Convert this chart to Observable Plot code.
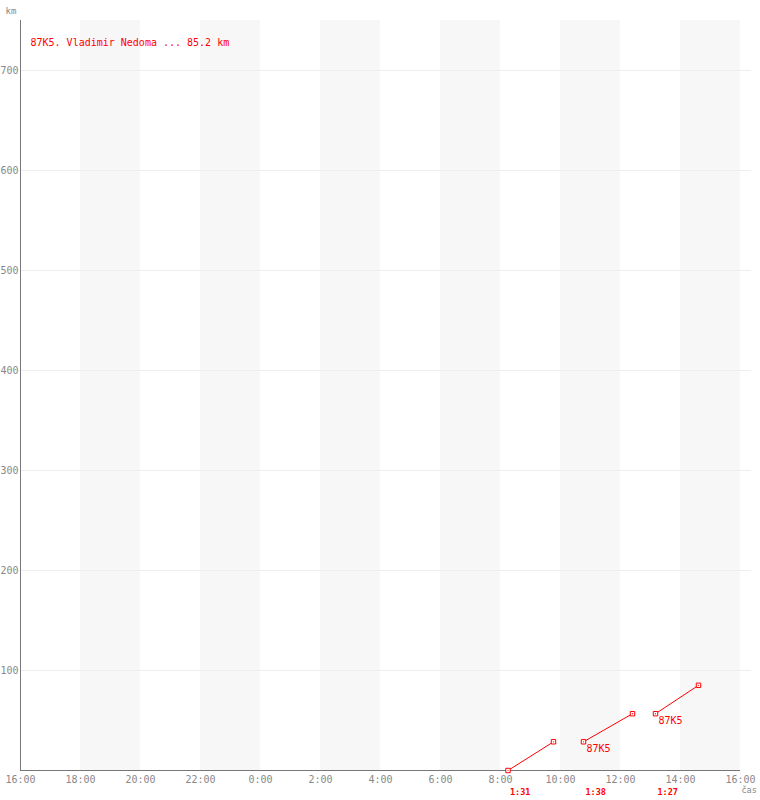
<!DOCTYPE html>
<html>
<head>
<meta charset="utf-8">
<script src="https://cdn.jsdelivr.net/npm/d3@7"></script>
<script src="https://cdn.jsdelivr.net/npm/@observablehq/plot@0.6"></script>
<style>
  html, body { margin: 0; padding: 0; background: white; }
</style>
</head>
<body>
<div id="chart"></div>
<script>
// ---- data ----
const title = "87K5. Vladimir Nedoma ... 85.2 km";
const segStart = ["08:15", "10:46", "13:10"];
const segEnd = ["09:46", "12:24", "14:36"];
const kmStart = [0, 28.7, 56.8];
const kmEnd = [28.7, 56.8, 85.2];
const durations = ["1:31", "1:38", "1:27"];
const segLabels = [null, "87K5", "87K5"];
const bandStarts = ["18:00", "22:00", "02:00", "06:00", "10:00", "14:00"];
const xTickTimes = ["16:00", "18:00", "20:00", "22:00", "00:00", "02:00", "04:00", "06:00", "08:00", "10:00", "12:00", "14:00", "16:00+"];
const xTickLabels = ["16:00", "18:00", "20:00", "22:00", "0:00", "2:00", "4:00", "6:00", "8:00", "10:00", "12:00", "14:00", "16:00"];
const yTicks = [100, 200, 300, 400, 500, 600, 700];

// time helper: window runs from 16:00 on day 1 to 16:00 on day 2
function toDate(s) {
  const next = s.endsWith("+");
  const [h, m] = s.replace("+", "").split(":").map(Number);
  const day = (next || h < 16) ? 2 : 1;
  return new Date(Date.UTC(2000, 0, day, h, m));
}
const t0 = toDate("16:00");
const t1 = toDate("16:00+");
const gridEnd = new Date(+t1 + 22 * 60 * 1000);

const segments = segStart.map((s, i) => ({
  x1: toDate(s), x2: toDate(segEnd[i]), y1: kmStart[i], y2: kmEnd[i],
  dur: durations[i], label: segLabels[i]
}));
const points = segments.flatMap(d => [{x: d.x1, y: d.y1}, {x: d.x2, y: d.y2}]);
const bands = bandStarts.map(s => ({x1: toDate(s), x2: new Date(+toDate(s) + 2 * 3600 * 1000)}));
const xTicks = xTickTimes.map(toDate);

const red = "#ff0000";
const grey = "#888";

const chart = Plot.plot({
  width: 760,
  height: 800,
  marginLeft: 20,
  marginRight: 20,
  marginTop: 20,
  marginBottom: 30,
  style: {fontFamily: "DejaVu Sans Mono, monospace", fontSize: "10px", background: "white", color: grey},
  x: {type: "utc", domain: [t0, t1]},
  y: {domain: [0, 750]},
  marks: [
    Plot.rect(bands, {x1: "x1", x2: "x2", y1: () => 0, y2: () => 750, fill: "#f7f7f7"}),
    Plot.ruleY(yTicks, {x1: () => t0, x2: () => gridEnd, stroke: "#eeeeee", clip: false}),
    Plot.axisY({ticks: yTicks, tickSize: 0, tickPadding: 2, label: null, fill: grey}),
    Plot.axisX({ticks: xTicks, tickSize: 0, tickPadding: 5, label: null, fill: grey,
      tickFormat: (d, i) => xTickLabels[i]}),
    Plot.ruleX([t0], {y1: 0, y2: 750, stroke: "#777"}),
    Plot.ruleY([0], {x1: () => t0, x2: () => t1, stroke: "#777"}),
    Plot.link(segments, {x1: "x1", y1: "y1", x2: "x2", y2: "y2", stroke: red, strokeWidth: 1}),
    Plot.dot(points, {x: "x", y: "y", symbol: "square", r: 2.5, stroke: red, fill: "white", strokeWidth: 1}),
    Plot.dot(points, {x: "x", y: "y", r: 0.6, fill: red}),
    Plot.text(segments.filter(d => d.label), {x: "x1", y: "y1", text: "label", fill: red,
      textAnchor: "start", dx: 3, dy: 7, fontSize: 10}),
    Plot.text(segments, {x: "x1", y: () => 0, text: "dur", fill: red, fontWeight: "bold",
      textAnchor: "start", dx: 2, dy: 22, fontSize: 8.5}),
    Plot.text([title], {frameAnchor: "top-left", text: d => d, fill: red, textAnchor: "start",
      dx: 10, dy: 18, fontSize: 10}),
    Plot.text(["km"], {frameAnchor: "top-left", text: d => d, fill: grey, textAnchor: "start",
      dx: -15, dy: -13, fontSize: 9}),
    Plot.text(["čas"], {frameAnchor: "bottom-right", text: d => d, fill: grey, textAnchor: "start",
      dx: 1, dy: 22, fontSize: 8.5})
  ]
});
document.getElementById("chart").appendChild(chart);
</script>
</body>
</html>
